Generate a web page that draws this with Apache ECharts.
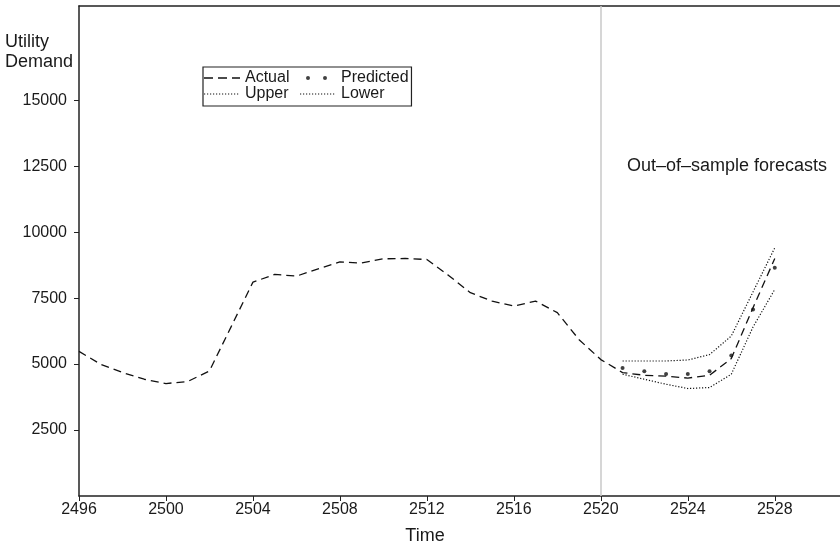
<!DOCTYPE html>
<html>
<head>
<meta charset="utf-8">
<script src="https://cdn.jsdelivr.net/npm/echarts@6/dist/echarts.min.js"></script>
<style>
  html, body { margin: 0; padding: 0; background: #fff; }
  #chart { width: 840px; height: 550px; }
</style>
</head>
<body>
<div id="chart"></div>
<script>
// Observed utility demand by period
const years = [2496, 2497, 2498, 2499, 2500, 2501, 2502, 2503, 2504, 2505, 2506,
               2507, 2508, 2509, 2510, 2511, 2512, 2513, 2514, 2515, 2516, 2517,
               2518, 2519, 2520, 2521, 2522, 2523, 2524, 2525, 2526, 2527, 2528];
const actual = [5480, 4990, 4680, 4425, 4262, 4340, 4740, 6420, 8105, 8396, 8332,
                8610, 8870, 8830, 8990, 9000, 8963, 8360, 7704, 7386, 7197, 7386,
                6947, 5925, 5170, 4677, 4576, 4540, 4470, 4576, 5207, 7136, 9000];

// Out-of-sample forecasts with interval bounds
const forecastYears = [2521, 2522, 2523, 2524, 2525, 2526, 2527, 2528];
const predicted = [4853, 4728, 4626, 4626, 4728, 5320, 7072, 8648];
const upper     = [5117, 5117, 5117, 5155, 5358, 6063, 7735, 9405];
const lower     = [4614, 4425, 4236, 4073, 4111, 4614, 6404, 7829];

const forecastStart = 2520;
const xTicks = [2496, 2500, 2504, 2508, 2512, 2516, 2520, 2524, 2528];
const yTicks = [2500, 5000, 7500, 10000, 12500, 15000];

const pairs = (xs, ys) => xs.map((x, i) => [x, ys[i]]);
const plain = v => String(v);

const FONT = '"Liberation Sans", Arial, Helvetica, sans-serif';
const INK = '#1a1a1a';

// Legend swatches as paths inside a 36x14 box (corner moves fix the box size)
function strokeIcon(dash, gap, thick) {
  let d = 'path://M0,0M36,14';
  const y0 = 7 - thick / 2, y1 = 7 + thick / 2;
  for (let x = 0; x < 36; x += dash + gap) {
    const x1 = Math.min(x + dash, 36);
    d += `M${x},${y0}L${x1},${y0}L${x1},${y1}L${x},${y1}Z`;
  }
  return d;
}
const dashIcon = strokeIcon(9, 5, 1.3);
const dotIcon = strokeIcon(1.2, 1.8, 1.2);
const dotsIcon = 'path://M0,0M36,14' +
  'M6,7a2,2 0 1,0 4,0a2,2 0 1,0 -4,0Z' +
  'M23,7a2,2 0 1,0 4,0a2,2 0 1,0 -4,0Z';

const chart = echarts.init(document.getElementById('chart'), null, { renderer: 'canvas' });

const xMin = 2496, xMax = 2531, yMin = 0, yMax = 18570;

chart.setOption({
  animation: false,
  backgroundColor: '#fff',
  textStyle: { fontFamily: FONT },
  grid: { left: 79, right: 0, top: 6, bottom: 53, containLabel: false },
  xAxis: [{
    type: 'value', min: xMin, max: xMax, position: 'bottom',
    name: 'Time', nameLocation: 'middle', nameGap: 31,
    nameTextStyle: { fontFamily: FONT, fontSize: 18, color: INK, padding: [0, 69, 0, 0] },
    axisLine: { show: true, onZero: false, lineStyle: { color: '#222', width: 1.5 } },
    axisTick: { show: true, inside: false, length: 5, customValues: xTicks, lineStyle: { color: '#222', width: 1 } },
    axisLabel: { customValues: xTicks, formatter: plain, margin: 6, fontFamily: FONT, fontSize: 16, color: INK },
    splitLine: { show: false }
  }, {
    type: 'value', min: xMin, max: xMax, position: 'top',
    axisLine: { show: true, onZero: false, lineStyle: { color: '#222', width: 1.5 } },
    axisTick: { show: false }, axisLabel: { show: false }, splitLine: { show: false }
  }],
  yAxis: {
    type: 'value', min: yMin, max: yMax,
    axisLine: { show: true, onZero: false, lineStyle: { color: '#222', width: 1.5 } },
    axisTick: { show: true, inside: false, length: 5, customValues: yTicks, lineStyle: { color: '#222', width: 1 } },
    axisLabel: { customValues: yTicks, formatter: plain, margin: 12, fontFamily: FONT, fontSize: 16, color: INK },
    splitLine: { show: false }
  },
  legend: [{
    data: [{ name: 'Actual', icon: dashIcon }, { name: 'Upper', icon: dotIcon }],
    orient: 'vertical', left: 203, top: 67,
    padding: [3, 122, 4, 1],
    itemWidth: 36, itemHeight: 14, itemGap: 0,
    symbolKeepAspect: false,
    borderColor: '#222', borderWidth: 1.2,
    textStyle: { fontFamily: FONT, fontSize: 16, color: INK, lineHeight: 16 },
    selectedMode: false
  }, {
    data: [{ name: 'Predicted', icon: dotsIcon }, { name: 'Lower', icon: dotIcon }],
    orient: 'vertical', left: 300, top: 70,
    padding: 0,
    itemWidth: 36, itemHeight: 14, itemGap: 0,
    symbolKeepAspect: false,
    textStyle: { fontFamily: FONT, fontSize: 16, color: INK, lineHeight: 16 },
    selectedMode: false
  }],
  graphic: [{
    type: 'text', left: 5, top: 32,
    style: { text: 'Utility\nDemand', font: '18px ' + FONT, fill: INK, lineHeight: 20 }
  }, {
    type: 'text', x: 627, y: 166,
    style: { text: 'Out\u2013of\u2013sample forecasts', font: '18px ' + FONT, fill: INK, verticalAlign: 'middle' }
  }],
  series: [{
    name: 'Actual', type: 'line', data: pairs(years, actual),
    symbol: 'none', z: 3,
    lineStyle: { color: '#111', width: 1.3, type: [8, 5] },
    itemStyle: { color: '#111' },
    markLine: {
      silent: true, symbol: 'none', z: 1,
      label: { show: false },
      lineStyle: { color: '#c8c8c8', width: 1.5, type: 'solid' },
      data: [{ xAxis: forecastStart }]
    }
  }, {
    name: 'Predicted', type: 'scatter', data: pairs(forecastYears, predicted),
    symbol: 'circle', symbolSize: 4, z: 4,
    itemStyle: { color: '#111' }
  }, {
    name: 'Upper', type: 'line', data: pairs(forecastYears, upper),
    symbol: 'none', z: 3,
    lineStyle: { color: '#111', width: 1.2, type: [1.2, 1.8] },
    itemStyle: { color: '#111' }
  }, {
    name: 'Lower', type: 'line', data: pairs(forecastYears, lower),
    symbol: 'none', z: 3,
    lineStyle: { color: '#111', width: 1.2, type: [1.2, 1.8] },
    itemStyle: { color: '#111' }
  }]
});
</script>
</body>
</html>
